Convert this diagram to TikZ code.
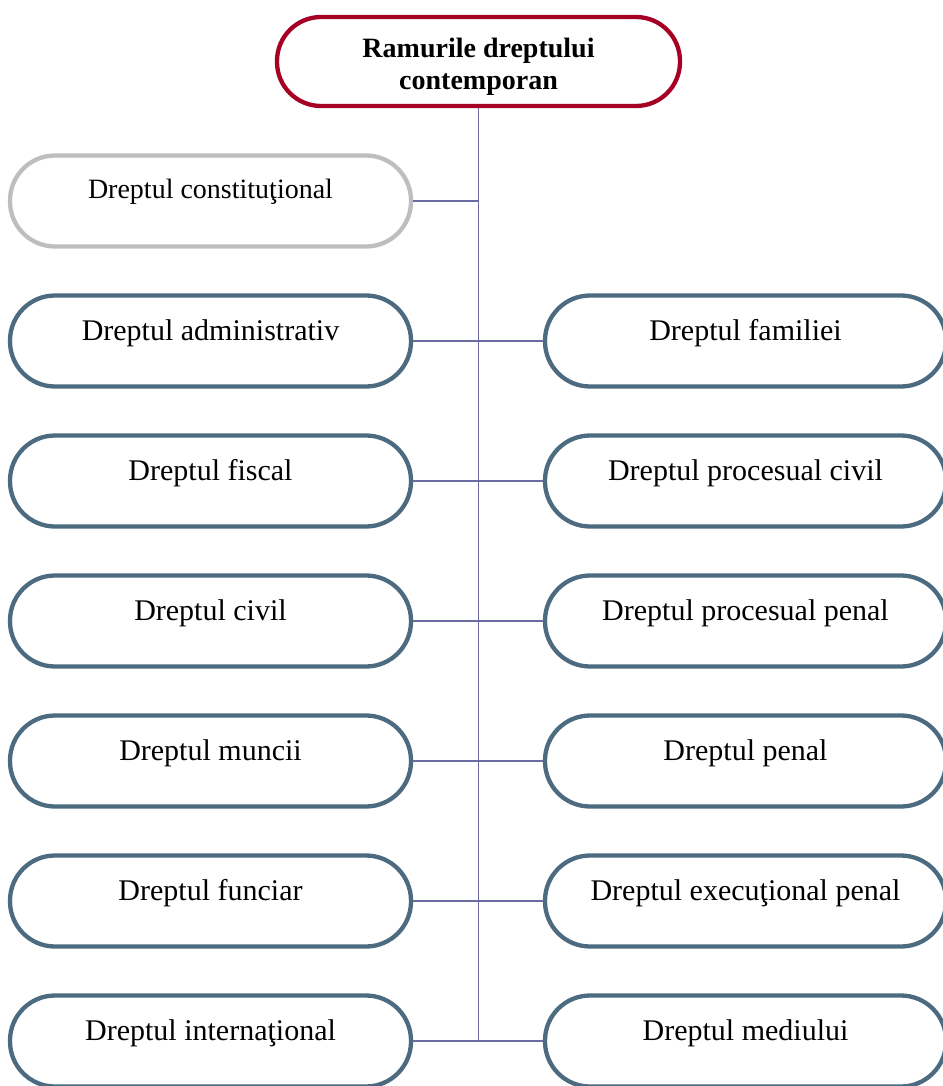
\documentclass[tikz,border=0pt]{standalone}
\usepackage{fontspec}
\setmainfont{Liberation Serif}
\definecolor{rootred}{RGB}{166,0,36}
\definecolor{softgray}{RGB}{190,190,190}
\definecolor{branchblue}{RGB}{76,106,128}
\definecolor{linkpurple}{RGB}{108,108,162}
\begin{document}
\begin{tikzpicture}[x=1pt,y=-1pt,
  branch/.style={draw=branchblue, line width=4.3pt, fill=white,
    minimum width=401pt, minimum height=91pt, rounded corners=45pt,
    font=\fontsize{30}{34}\selectfont, text height=20pt, text depth=22pt,
    inner sep=0pt},
  greybranch/.style={branch, draw=softgray,
    font=\fontsize{28}{32}\selectfont, text height=20pt, text depth=26pt},
  rootbox/.style={draw=rootred, line width=4.3pt, fill=white,
    minimum width=403pt, minimum height=89pt, rounded corners=44pt,
    font=\fontsize{28}{32}\selectfont\bfseries, inner sep=0pt},
  link/.style={draw=linkpurple, line width=1.9pt}]
\useasboundingbox (0,0) rectangle (942,1086);

% root, title set slightly below the box centre
\node[rootbox] (root) at (478.5,61.5)
  {\raisebox{-12pt}[0pt][0pt]{\begin{tabular}{@{}c@{}}Ramurile dreptului\\contemporan\end{tabular}}};

% left column
\node[greybranch] (l1) at (210.5,201) {Dreptul constituţional};
\node[branch] (l2) at (210.5,341) {Dreptul administrativ};
\node[branch] (l3) at (210.5,481) {Dreptul fiscal};
\node[branch] (l4) at (210.5,621) {Dreptul civil};
\node[branch] (l5) at (210.5,761) {Dreptul muncii};
\node[branch] (l6) at (210.5,901) {Dreptul funciar};
\node[branch] (l7) at (210.5,1041) {Dreptul internaţional};

% right column
\node[branch] (r2) at (745.5,341) {Dreptul familiei};
\node[branch] (r3) at (745.5,481) {Dreptul procesual civil};
\node[branch] (r4) at (745.5,621) {Dreptul procesual penal};
\node[branch] (r5) at (745.5,761) {Dreptul penal};
\node[branch] (r6) at (745.5,901) {Dreptul execuţional penal};
\node[branch] (r7) at (745.5,1041) {Dreptul mediului};

% trunk and branches
\coordinate (trunkend) at (478.5,1041);
\coordinate (j1) at (478.5,201);
\draw[link] (root.south) -- (trunkend);
\draw[link] (l1.east) -- (j1);
\foreach \i in {2,...,7}{
  \draw[link] (l\i.east) -- (r\i.west);
}
\end{tikzpicture}
\end{document}
